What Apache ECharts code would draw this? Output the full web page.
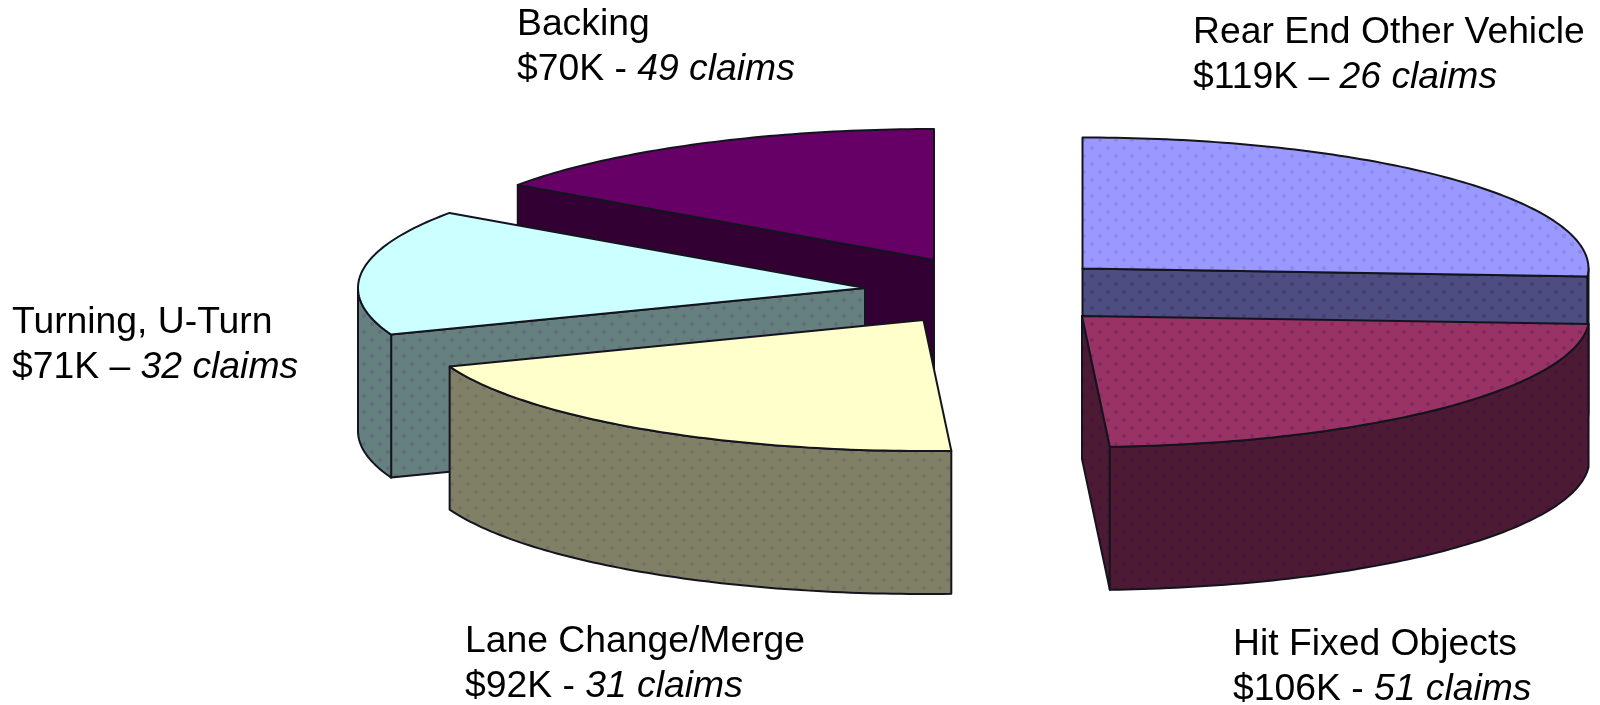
<!DOCTYPE html>
<html>
<head>
<meta charset="utf-8">
<style>html,body{margin:0;padding:0;background:#fff}#c{width:1600px;height:705px}</style>
<script src="https://cdn.jsdelivr.net/npm/echarts@6/dist/echarts.min.js"></script>
</head>
<body>
<div id="c"></div>
<script>
// Data, clockwise from twelve o'clock
const categories = ['Rear End Other Vehicle', 'Hit Fixed Objects', 'Lane Change/Merge', 'Turning, U-Turn', 'Backing'];
const costK = [119, 106, 92, 71, 70];
const claims = [26, 51, 31, 32, 49];
const dashes = ['–', '-', '-', '–', '-'];

// Styles and layout
const topColors = ['#9999ff', '#993366', '#ffffcc', '#ccffff', '#660066'];
const wallColors = ['#4d4d80', '#4d1a33', '#808066', '#668080', '#330033'];
const dotAlpha = [0.12, 0.22, 0, 0, 0];
const wallDotAlpha = [0.22, 0.3, 0.12, 0.14, 0];
const apexX = [1082.5, 1082, 923.5, 865, 934];
const apexY = [268.5, 316, 320, 288, 260];
const radiusX = [506, 507.5, 507, 507, 508];
const sliceZ = [1, 2, 3, 1, 0];
const labelX = [1193, 1233, 465, 12, 517];
const labelY = [10, 622.5, 619, 300.5, 2];
const RY = 131, DEPTH = 143;
const FONT = 'Liberation Sans';
const FONT_SIZE = 37.3, LINE_H = 45;

const total = costK.reduce(function (a, b) { return a + b; }, 0);
const starts = [];
costK.reduce(function (acc, v, i) { starts[i] = acc; return acc + v; }, 0);

function texture(base, alpha) {
  const c = document.createElement('canvas');
  c.width = 16; c.height = 16;
  const g = c.getContext('2d');
  g.fillStyle = base; g.fillRect(0, 0, 16, 16);
  if (alpha > 0) {
    g.fillStyle = 'rgba(60,0,90,' + alpha + ')';
    g.beginPath(); g.arc(4, 4, 2, 0, 7); g.fill();
    g.beginPath(); g.arc(12, 12, 2, 0, 7); g.fill();
  }
  return { image: c, repeat: 'repeat' };
}
const topFill = topColors.map(function (c, i) { return texture(c, dotAlpha[i]); });
const wallFill = wallColors.map(function (c, i) { return texture(c, wallDotAlpha[i]); });

function renderSlice(params, api) {
  const i = params.dataIndex;
  const value = api.value(0);
  const a0 = starts[i] / total * Math.PI * 2;
  const a1 = a0 + value / total * Math.PI * 2;
  const o = api.coord([apexX[i], apexY[i]]);
  const RX = radiusX[i];
  const pt = function (a, d) {
    return [o[0] + RX * Math.sin(a), o[1] - RY * Math.cos(a) + (d || 0)];
  };
  const arcPts = function (s, e, d) {
    const n = Math.max(2, Math.ceil((e - s) * 60));
    const r = [];
    for (let k = 0; k <= n; k++) r.push(pt(s + (e - s) * k / n, d));
    return r;
  };
  const stroke = { stroke: '#14141e', lineWidth: 2, lineJoin: 'round' };
  const poly = function (points, fill, z) {
    return { type: 'polygon', z2: z, shape: { points: points }, style: Object.assign({ fill: fill }, stroke) };
  };
  const base = sliceZ[i] * 10;
  const children = [];
  const wall = wallFill[i];
  // a radial wall is seen only when its outward normal points toward the viewer
  if (Math.sin(a0) < -0.001) {
    const p = pt(a0);
    children.push(poly([[o[0], o[1]], p, [p[0], p[1] + DEPTH], [o[0], o[1] + DEPTH]], wall, base + 1));
  }
  if (Math.sin(a1) > 0.001) {
    const p = pt(a1);
    children.push(poly([[o[0], o[1]], p, [p[0], p[1] + DEPTH], [o[0], o[1] + DEPTH]], wall, base + 1));
  }
  // outer wall: the front half of the rim only
  const fs = Math.max(a0, Math.PI / 2), fe = Math.min(a1, Math.PI * 1.5);
  if (fe > fs) {
    const topEdge = arcPts(fs, fe, 0);
    const bottomEdge = arcPts(fs, fe, DEPTH).reverse();
    children.push(poly(topEdge.concat(bottomEdge), wall, base + 2));
  }
  // top face
  children.push(poly([[o[0], o[1]]].concat(arcPts(a0, a1, 0)), topFill[i], base + 3));
  return { type: 'group', children: children };
}

function renderLabel(params, api) {
  const i = params.dataIndex;
  const p = api.coord([labelX[i], labelY[i]]);
  return {
    type: 'text', z2: 100, x: p[0], y: p[1],
    style: {
      text: '{n|' + categories[i] + '}\n{n|$' + costK[i] + 'K ' + dashes[i] + ' }{e|' + claims[i] + ' claims}',
      align: 'left', verticalAlign: 'top',
      rich: {
        n: { fontFamily: FONT, fontSize: FONT_SIZE, lineHeight: LINE_H, fill: '#000' },
        e: { fontFamily: FONT, fontSize: FONT_SIZE, lineHeight: LINE_H, fontStyle: 'italic', fill: '#000' }
      }
    }
  };
}

const chart = echarts.init(document.getElementById('c'), null, { renderer: 'canvas' });
chart.setOption({
  animation: false,
  backgroundColor: '#fff',
  grid: { left: 0, right: 0, top: 0, bottom: 0 },
  xAxis: { type: 'value', min: 0, max: 1600, show: false },
  yAxis: { type: 'value', min: 0, max: 705, inverse: true, show: false },
  series: [
    { type: 'custom', coordinateSystem: 'cartesian2d', renderItem: renderSlice, silent: true,
      encode: { x: 1, y: 2 },
      data: costK.map(function (v, i) { return [v, apexX[i], apexY[i]]; }) },
    { type: 'custom', coordinateSystem: 'cartesian2d', renderItem: renderLabel, silent: true, z: 5,
      encode: { x: 1, y: 2 },
      data: costK.map(function (v, i) { return [v, labelX[i], labelY[i]]; }) }
  ]
});
</script>
</body>
</html>
